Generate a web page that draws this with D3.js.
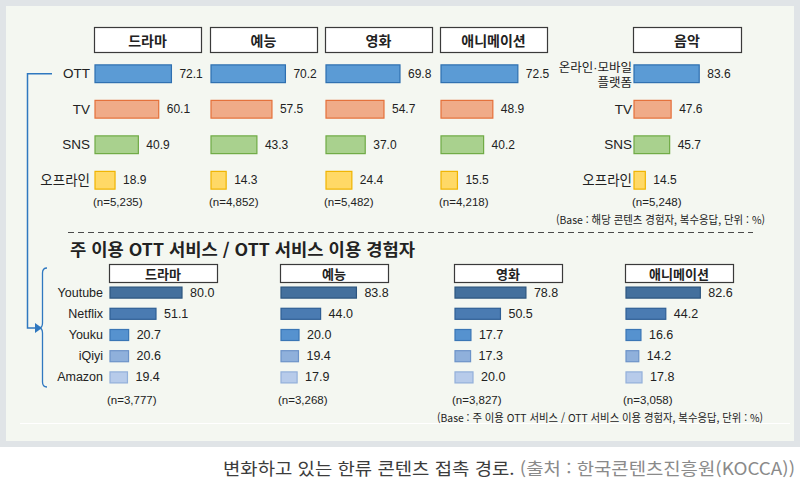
<!DOCTYPE html>
<html lang="ko">
  <head>
    <meta charset="utf-8">
    <title>한류 콘텐츠 접촉 경로</title>
    <script src="https://d3js.org/d3.v7.js"></script>
    <style>
      body { margin: 0; background: #fff; }
      text { font-family: "Liberation Sans", "Noto Sans CJK KR", sans-serif; fill: #222; }
      .kr { font-family: "Noto Sans CJK KR", sans-serif; }
    </style>
  </head>
  <body>
    <script>
  var w = 800;
  var h = 500;

  // top section data
  var genres = ["드라마", "예능", "영화", "애니메이션"];
  var channels = ["OTT", "TV", "SNS", "오프라인"];
  var dramaValues = [72.1, 60.1, 40.9, 18.9];
  var varietyValues = [70.2, 57.5, 43.3, 14.3];
  var movieValues = [69.8, 54.7, 37.0, 24.4];
  var animeValues = [72.5, 48.9, 40.2, 15.5];
  var genreN = ["5,235", "4,852", "5,482", "4,218"];

  var musicLabel = "음악";
  var musicChannels = ["온라인·모바일 플랫폼", "TV", "SNS", "오프라인"];
  var musicValues = [83.6, 47.6, 45.7, 14.5];
  var musicN = "5,248";

  // bottom section data
  var services = ["Youtube", "Netflix", "Youku", "iQiyi", "Amazon"];
  var ottDrama = [80.0, 51.1, 20.7, 20.6, 19.4];
  var ottVariety = [83.8, 44.0, 20.0, 19.4, 17.9];
  var ottMovie = [78.8, 50.5, 17.7, 17.3, 20.0];
  var ottAnime = [82.6, 44.2, 16.6, 14.2, 17.8];
  var ottN = ["3,777", "3,268", "3,827", "3,058"];

  var topValues = [dramaValues, varietyValues, movieValues, animeValues];
  var ottValues = [ottDrama, ottVariety, ottMovie, ottAnime];

  var channelFill = ["#5b9bd5", "#f0ab88", "#a9d18e", "#ffd966"];
  var channelStroke = ["#2e6fb0", "#e5703a", "#6faa45", "#f0b400"];
  var serviceFill = ["#44709d", "#4a7bb2", "#5692cf", "#8fb0db", "#b7cbea"];
  var serviceStroke = ["#2c557f", "#2f5f95", "#3a76b5", "#6c93c8", "#93b0da"];

  var svg = d3.select("body")
    .append("svg")
    .attr("width", w)
    .attr("height", h);

  // frame
  svg.append("rect").attr("x", 0).attr("y", 0).attr("width", w).attr("height", 447).attr("fill", "#e0e4e7");
  svg.append("rect").attr("x", 6).attr("y", 6).attr("width", 788).attr("height", 435).attr("fill", "#f4f7f1");
  svg.append("line").attr("x1", 20).attr("x2", 790).attr("y1", 423.5).attr("y2", 423.5)
    .attr("stroke", "#ffffff").attr("stroke-width", 1);

  // scales
  var xTop = d3.scaleLinear().domain([0, 100]).range([0, 106]);
  var xMusic = d3.scaleLinear().domain([0, 100]).range([0, 78]);
  var xBottom = d3.scaleLinear().domain([0, 100]).range([0, 90]);

  var yTop = d3.scaleBand().domain(d3.range(4)).range([56, 198])
    .paddingInner(0.5).paddingOuter(0.25);
  var yBottom = d3.scaleBand().domain(d3.range(5)).range([282, 388])
    .paddingInner(0.48).paddingOuter(0.24);

  var topX = [95, 211, 326, 441];
  var musicX = 634;
  var bottomX = [110, 281, 455, 626];

  function headerBox(x, y, bw, bh, label, size) {
    svg.append("rect")
      .attr("x", x + 0.5).attr("y", y + 0.5)
      .attr("width", bw).attr("height", bh)
      .attr("fill", "#ffffff").attr("stroke", "#3a3a3a").attr("stroke-width", 1.2);
    svg.append("text").attr("class", "kr")
      .attr("x", x + bw / 2).attr("y", y + bh / 2)
      .attr("text-anchor", "middle").attr("dominant-baseline", "central")
      .attr("font-size", size).attr("font-weight", "bold")
      .text(label);
  }

  function barGroup(x0, xs, ys, values, fills, strokes, size) {
    var g = svg.append("g");
    g.selectAll("rect")
      .data(values)
      .enter()
      .append("rect")
      .attr("x", x0)
      .attr("y", function (d, i) { return ys(i); })
      .attr("width", function (d) { return xs(d); })
      .attr("height", ys.bandwidth())
      .attr("fill", function (d, i) { return fills[i]; })
      .attr("stroke", function (d, i) { return strokes[i]; })
      .attr("stroke-width", 1.2);
    g.selectAll("text")
      .data(values)
      .enter()
      .append("text")
      .attr("x", function (d) { return x0 + xs(d) + 8; })
      .attr("y", function (d, i) { return ys(i) + ys.bandwidth() / 2; })
      .attr("dominant-baseline", "central")
      .attr("font-size", size)
      .attr("fill", "#333")
      .text(function (d) { return d.toFixed(1); });
  }

  // top section
  genres.forEach(function (gname, k) {
    headerBox(topX[k] - 1, 27, 107, 25, gname, 14);
    barGroup(topX[k], xTop, yTop, topValues[k], channelFill, channelStroke, 12);
    svg.append("text")
      .attr("x", topX[k] - 2).attr("y", 206)
      .attr("font-size", 11.5)
      .text("(n=" + genreN[k] + ")");
  });

  svg.selectAll(".toplab")
    .data(channels)
    .enter()
    .append("text")
    .attr("x", 90)
    .attr("y", function (d, i) { return yTop(i) + yTop.bandwidth() / 2; })
    .attr("text-anchor", "end").attr("dominant-baseline", "central")
    .attr("font-size", 13.5)
    .text(function (d) { return d; });

  headerBox(musicX - 1, 27, 108, 25, musicLabel, 14);
  barGroup(musicX, xMusic, yTop, musicValues, channelFill, channelStroke, 12);
  musicChannels.forEach(function (d, i) {
    var parts = d.split(" ");
    var cy = yTop(i) + yTop.bandwidth() / 2;
    parts.forEach(function (p, j) {
      var off = parts.length > 1 ? (j === 0 ? -6 : 9) : 0;
      svg.append("text")
        .attr("x", 632).attr("text-anchor", "end")
        .attr("y", cy + off)
        .attr("dominant-baseline", "central")
        .attr("font-size", parts.length > 1 ? 12.5 : 13.5)
        .text(p);
    });
  });
  svg.append("text")
    .attr("x", musicX - 2).attr("y", 206)
    .attr("font-size", 11.5)
    .text("(n=" + musicN + ")");
  svg.append("text").attr("class", "kr")
    .attr("x", 556).attr("y", 224)
    .attr("font-size", 11).attr("textLength", 209).attr("lengthAdjust", "spacingAndGlyphs")
    .text("(Base : 해당 콘텐츠 경험자, 복수응답, 단위 : %)");

  // divider
  svg.append("line")
    .attr("x1", 68).attr("x2", 753).attr("y1", 232.5).attr("y2", 232.5)
    .attr("stroke", "#4a4a4a").attr("stroke-width", 1).attr("stroke-dasharray", "6,4");

  svg.append("text").attr("class", "kr")
    .attr("x", 70).attr("y", 256)
    .attr("font-size", 16.5).attr("font-weight", "bold")
    .attr("textLength", 345).attr("lengthAdjust", "spacingAndGlyphs")
    .text("주 이용 OTT 서비스 / OTT 서비스 이용 경험자");

  // bottom section
  genres.forEach(function (gname, k) {
    headerBox(bottomX[k] - 1, 264, 108, 18, gname, 13);
    barGroup(bottomX[k], xBottom, yBottom, ottValues[k], serviceFill, serviceStroke, 12.5);
    svg.append("text")
      .attr("x", bottomX[k] - 3).attr("y", 404)
      .attr("font-size", 11.5)
      .text("(n=" + ottN[k] + ")");
  });

  svg.selectAll(".botlab")
    .data(services)
    .enter()
    .append("text")
    .attr("x", 103)
    .attr("y", function (d, i) { return yBottom(i) + yBottom.bandwidth() / 2; })
    .attr("text-anchor", "end").attr("dominant-baseline", "central")
    .attr("font-size", 12.5)
    .text(function (d) { return d; });

  svg.append("text").attr("class", "kr")
    .attr("x", 437).attr("y", 422)
    .attr("font-size", 11).attr("textLength", 326).attr("lengthAdjust", "spacingAndGlyphs")
    .text("(Base : 주 이용 OTT 서비스 / OTT 서비스 이용 경험자, 복수응답, 단위 : %)");

  // connector from OTT to bottom section
  var blue = "#2f78c0";
  var ottY = yTop(0) + yTop.bandwidth() / 2;
  svg.append("path")
    .attr("d", "M52," + ottY + " H27.5 V328 H36")
    .attr("fill", "none").attr("stroke", blue).attr("stroke-width", 1.5);
  svg.append("path")
    .attr("d", "M35,323 L42,328 L35,333 Z")
    .attr("fill", blue);
  svg.append("path")
    .attr("d", "M47,268 Q42.5,268 42.5,273 V323 Q42.5,328 39,328 Q42.5,328 42.5,333 V382 Q42.5,387 47,387")
    .attr("fill", "none").attr("stroke", blue).attr("stroke-width", 1.3);

  // caption
  var cap = svg.append("text").attr("class", "kr")
    .attr("x", 795).attr("y", 475).attr("text-anchor", "end")
    .attr("font-size", 17).attr("textLength", 572).attr("lengthAdjust", "spacingAndGlyphs");
  cap.append("tspan").attr("fill", "#3c3c3c").text("변화하고 있는 한류 콘텐츠 접촉 경로. ");
  cap.append("tspan").attr("fill", "#8a8a8a").text("(출처 : 한국콘텐츠진흥원(KOCCA))");
    </script>
  </body>
</html>
